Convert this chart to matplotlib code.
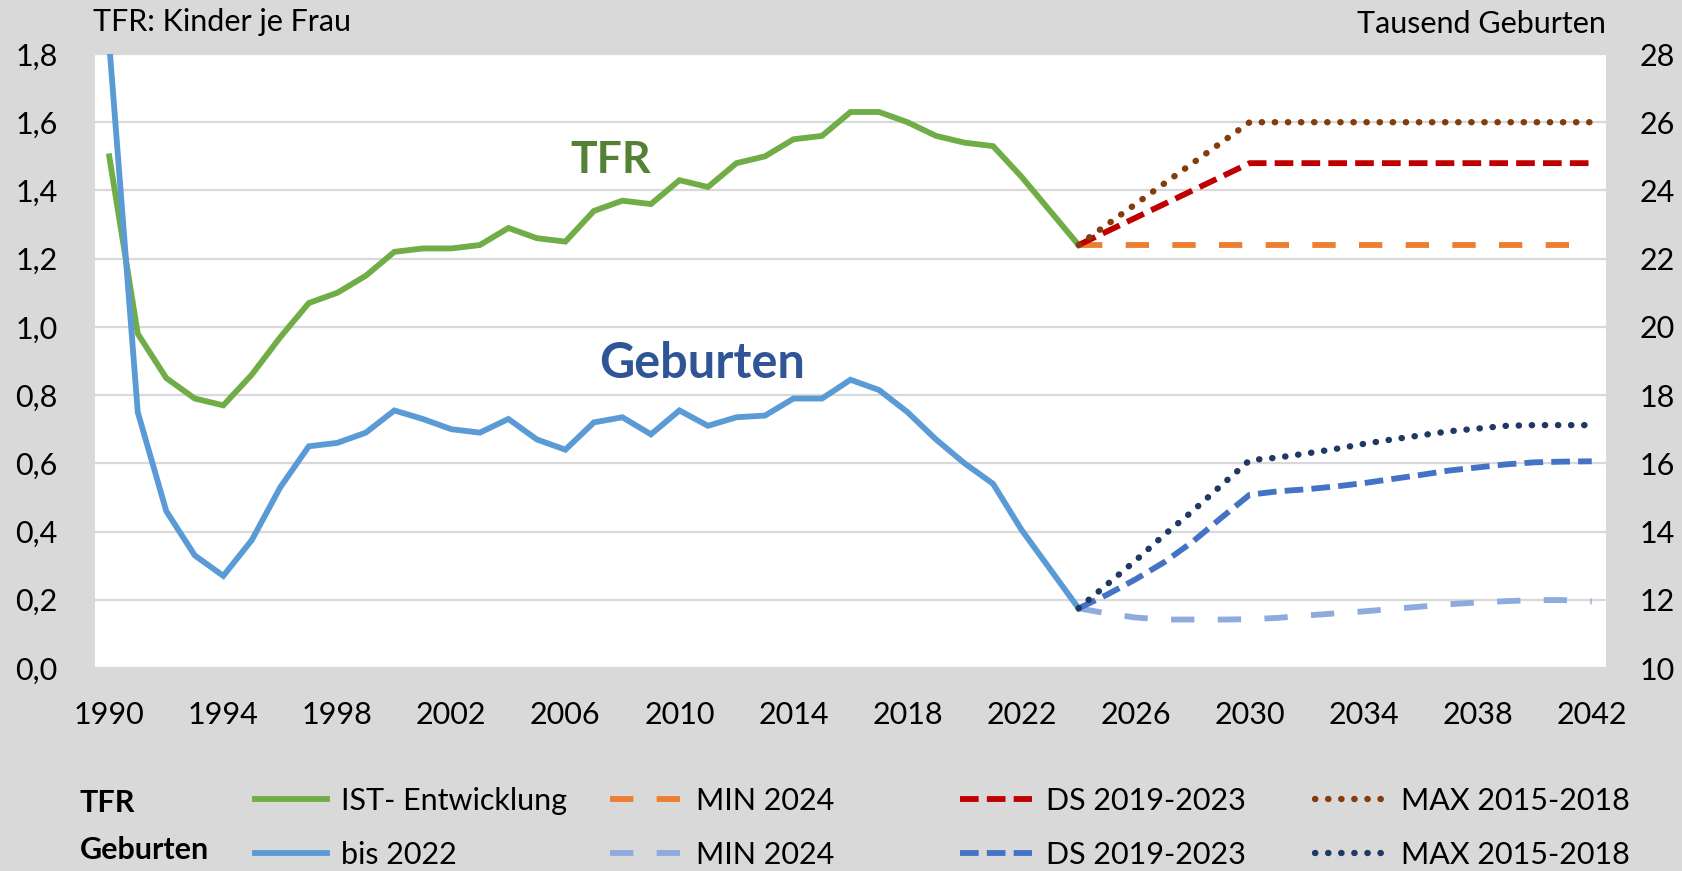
import numpy as np
import matplotlib
matplotlib.use("Agg")
import matplotlib.pyplot as plt
from matplotlib.lines import Line2D

plt.rcParams['font.family'] = ['Lato', 'DejaVu Sans']

# --- data -------------------------------------------------------------
years_ist = list(range(1990, 2025))
tfr_ist = [1.50, 0.98, 0.85, 0.79, 0.77, 0.86, 0.97, 1.07, 1.10, 1.15,
           1.22, 1.23, 1.23, 1.24, 1.29, 1.26, 1.25, 1.34, 1.37, 1.36,
           1.43, 1.41, 1.48, 1.50, 1.55, 1.56, 1.63, 1.63, 1.60, 1.56,
           1.54, 1.53, 1.44, 1.34, 1.24]
births_ist = [28.3, 17.5, 14.6, 13.3, 12.7, 13.75, 15.3, 16.5, 16.6, 16.9,
              17.55, 17.3, 17.0, 16.9, 17.3, 16.7, 16.4, 17.2, 17.35, 16.85,
              17.55, 17.1, 17.35, 17.4, 17.9, 17.9, 18.45, 18.15, 17.5, 16.7,
              16.0, 15.4, 14.05, 12.9, 11.75]

years_proj = list(range(2024, 2043))
tfr_min = [1.24, 1.24, 1.24, 1.24, 1.24, 1.24, 1.24, 1.24, 1.24, 1.24,
           1.24, 1.24, 1.24, 1.24, 1.24, 1.24, 1.24, 1.24, 1.24]
tfr_ds = [1.24, 1.28, 1.32, 1.36, 1.40, 1.44, 1.48, 1.48, 1.48, 1.48,
          1.48, 1.48, 1.48, 1.48, 1.48, 1.48, 1.48, 1.48, 1.48]
tfr_max = [1.24, 1.30, 1.36, 1.42, 1.48, 1.54, 1.60, 1.60, 1.60, 1.60,
           1.60, 1.60, 1.60, 1.60, 1.60, 1.60, 1.60, 1.60, 1.60]
births_min = [11.75, 11.6, 11.48, 11.42, 11.42, 11.42, 11.43, 11.47, 11.54, 11.6,
              11.66, 11.73, 11.8, 11.87, 11.92, 11.96, 11.99, 11.99, 11.95]
births_ds = [11.75, 12.15, 12.6, 13.1, 13.7, 14.4, 15.08, 15.18, 15.24, 15.32,
             15.42, 15.54, 15.66, 15.79, 15.88, 15.97, 16.03, 16.05, 16.06]
births_max = [11.75, 12.45, 13.15, 13.9, 14.6, 15.35, 16.09, 16.17, 16.29, 16.42,
              16.57, 16.7, 16.82, 16.94, 17.02, 17.1, 17.12, 17.12, 17.12]

x_ticks = list(range(1990, 2043, 4))
left_ticks = [0.0, 0.2, 0.4, 0.6, 0.8, 1.0, 1.2, 1.4, 1.6, 1.8]
right_ticks = [10, 12, 14, 16, 18, 20, 22, 24, 26, 28]

# colours
c_green = '#70AD47'
c_blue = '#5B9BD5'
c_orange = '#ED7D31'
c_red = '#C00000'
c_brown = '#843C0C'
c_lblue = '#8FAADC'
c_dblue = '#4472C4'
c_navy = '#203864'
bg = '#D9D9D9'

fs = 22
lw = 4.2
lw_dot = 4.6
dash_long = (0, (4, 4))
dash_sq = (0, (3.2, 1.4))
dots = (0, (0.05, 2.0))

fig = plt.figure(figsize=(16.83, 8.71), dpi=100, facecolor=bg)
ax = fig.add_axes([95/1683, 1 - 668/871, (1606-95)/1683, (668-54)/871])
ax.set_facecolor('white')
ax2 = ax.twinx()

# TFR on left axis
ax.plot(years_ist, tfr_ist, color=c_green, lw=lw, solid_joinstyle='miter')
ax.plot(years_proj, tfr_min, color=c_orange, lw=lw, ls=dash_long)
ax.plot(years_proj, tfr_ds, color=c_red, lw=lw, ls=dash_sq)
ax.plot(years_proj, tfr_max, color=c_brown, lw=lw_dot, ls=dots, dash_capstyle='round')

# births on right axis
ax2.plot(years_ist, births_ist, color=c_blue, lw=lw, solid_joinstyle='miter')
ax2.plot(years_proj, births_min, color=c_lblue, lw=lw, ls=dash_long)
ax2.plot(years_proj, births_ds, color=c_dblue, lw=lw, ls=dash_sq)
ax2.plot(years_proj, births_max, color=c_navy, lw=lw_dot, ls=dots, dash_capstyle='round')

ax.set_xlim(1989.5, 2042.5)
ax.set_ylim(0, 1.8)
ax2.set_ylim(10, 28)
ax.set_xticks(x_ticks)
ax.set_yticks(left_ticks)
ax.set_yticklabels([f"{v:.1f}".replace('.', ',') for v in left_ticks])
ax2.set_yticks(right_ticks)
ax.yaxis.grid(True, color=bg, lw=1.6)
ax.set_axisbelow(True)

for a in (ax, ax2):
    for s in a.spines.values():
        s.set_visible(False)
ax.tick_params(axis='x', length=0, pad=24, labelsize=fs)
ax.tick_params(axis='y', length=0, pad=27, labelsize=fs)
ax2.tick_params(axis='y', length=0, pad=24, labelsize=fs)

# series labels inside the plot
ax.text(2007.6, 1.49, 'TFR', color='#548235', fontsize=32, fontweight='bold',
        ha='center', va='center')
ax.text(2010.8, 0.894, 'Geburten', color='#2F5597', fontsize=35, fontweight='bold',
        ha='center', va='center')

# axis titles
fig.text(93/1683, 1 - 22/871, 'TFR: Kinder je Frau', fontsize=fs, ha='left', va='center')
fig.text(1606/1683, 1 - 24/871, 'Tausend Geburten', fontsize=fs, ha='right', va='center')

# legend: row titles + four columns
fig.text(80/1683, 1 - 803/871, 'TFR', fontsize=fs, fontweight='bold', va='center')
fig.text(80/1683, 1 - 850/871, 'Geburten', fontsize=fs, fontweight='bold', va='center')

cols = [
    (255, [(c_green, '-', lw, 'IST- Entwicklung'), (c_blue, '-', lw, 'bis 2022')]),
    (610, [(c_orange, dash_long, lw, 'MIN 2024'), (c_lblue, dash_long, lw, 'MIN 2024')]),
    (960, [(c_red, dash_sq, lw, 'DS 2019-2023'), (c_dblue, dash_sq, lw, 'DS 2019-2023')]),
    (1315, [(c_brown, dots, lw_dot, 'MAX 2015-2018'), (c_navy, dots, lw_dot, 'MAX 2015-2018')]),
]
for xpos, entries in cols:
    handles = [Line2D([], [], color=c, ls=ls, lw=w, dash_capstyle='round' if ls == dots else 'butt')
               for c, ls, w, _ in entries]
    labels = [e[3] for e in entries]
    fig.legend(handles, labels, loc='center left',
               bbox_to_anchor=(xpos/1683, 1 - 828/871), frameon=False,
               fontsize=fs, handlelength=2.35, handletextpad=0.45,
               labelspacing=0.85, borderpad=0, borderaxespad=0)

fig.savefig('out.png', dpi=100, facecolor=bg)
